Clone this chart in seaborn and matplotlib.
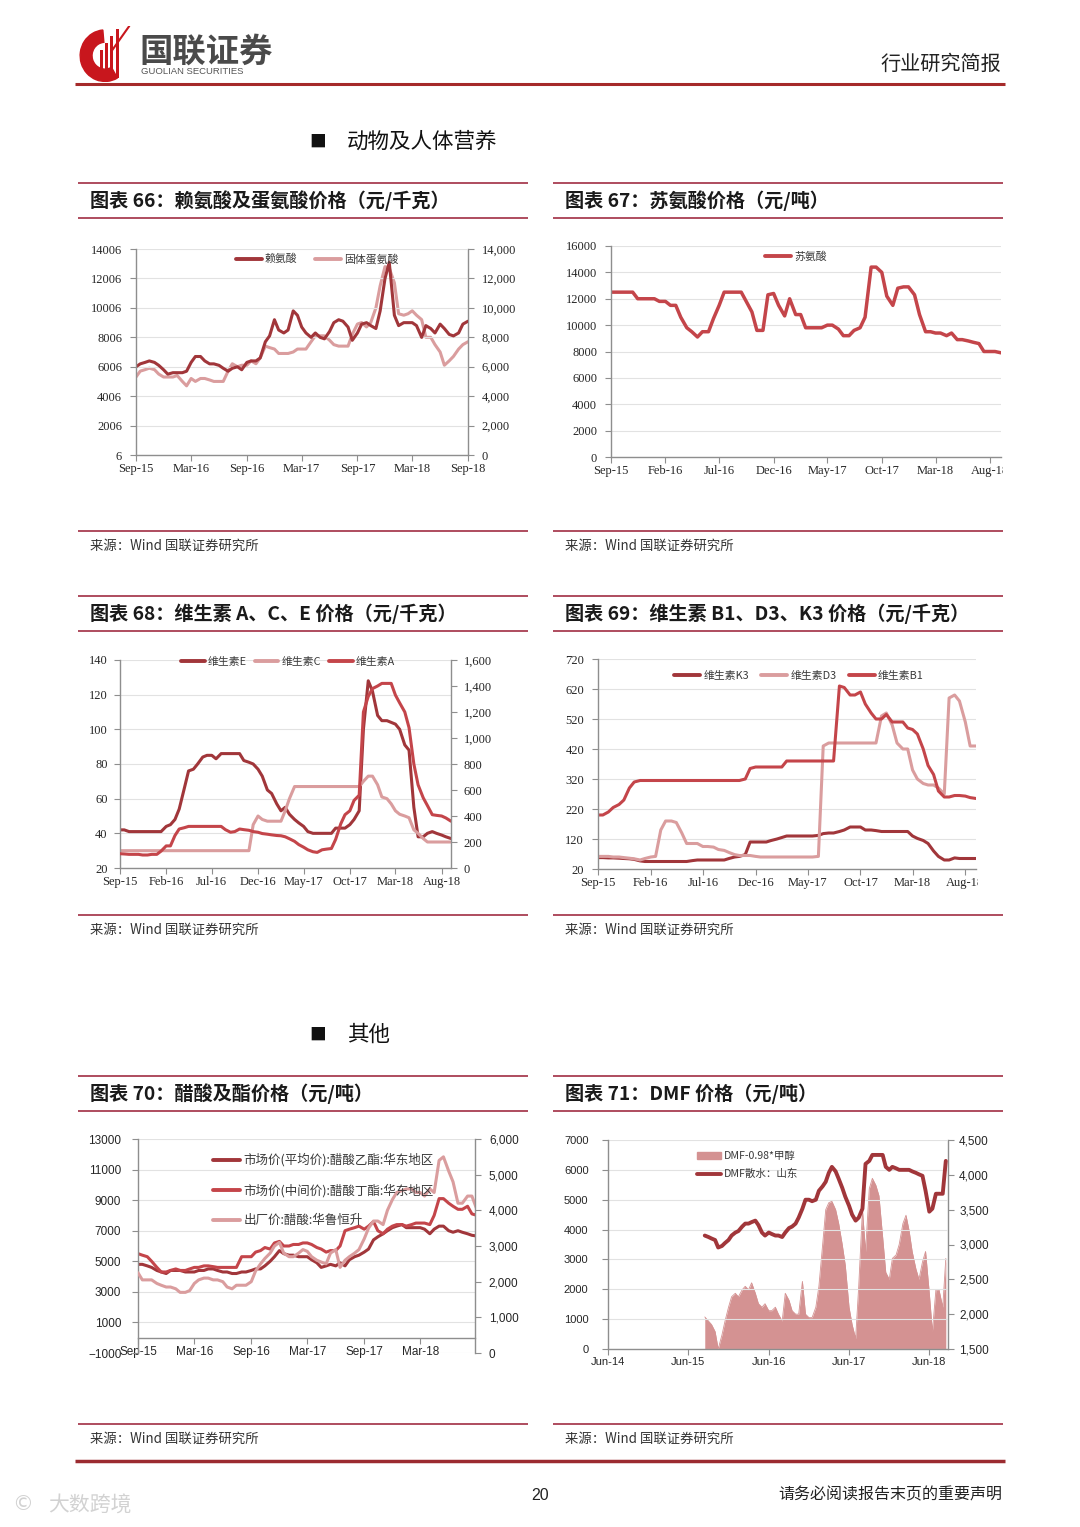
import numpy as np
import pandas as pd
import matplotlib
matplotlib.use('Agg')
import matplotlib.pyplot as plt
import matplotlib.dates as mdates
import seaborn as sns
from matplotlib.lines import Line2D
from matplotlib.patches import Rectangle, Wedge, Patch
from matplotlib.transforms import Bbox, TransformedBbox

# ======================= DATA (semi-monthly readings) =======================
# Chart 66 (Sep-15 .. Sep-18)
lysine = [6000, 6200, 6300, 6400, 6300, 6100, 5800, 5500, 5600, 5600,
          5600, 5700, 6300, 6700, 6700, 6400, 6200, 6200, 6100, 5900,
          5700, 5900, 6000, 5800, 6300, 6400, 6400, 6600, 7700, 8100,
          9200, 8500, 8300, 8500, 9800, 9500, 8700, 8300, 8000, 8300,
          8000, 7900, 8400, 9000, 9200, 9100, 8700, 7800, 8300, 8900,
          9000, 8800, 8600, 9800, 12000, 13100, 9500, 8800, 9000, 9000,
          9000, 8800, 8000, 8800, 8600, 8300, 8900, 8600, 8200, 8100,
          8300, 8900, 9100]
methionine = [5300, 5700, 5800, 5900, 5800, 5500, 5300, 5300, 5300, 5400,
              5000, 4700, 5200, 5000, 5200, 5200, 5100, 5000, 5000, 5000,
              5700, 6200, 6000, 6100, 6100, 6400, 6200, 6600, 7400, 7300,
              7200, 6900, 6900, 6900, 7000, 7200, 7200, 7200, 7700, 8100,
              8100, 8100, 7800, 7500, 7400, 7400, 7400, 8200, 8900, 9000,
              8700, 9000, 10000, 11500, 12800, 12700, 11700, 9600, 9500, 9600,
              9800, 9500, 9200, 8000, 8000, 7500, 7000, 6100, 6400, 6700,
              7200, 7500, 7700]
# Chart 67
threonine = [12500, 12500, 12500, 12500, 12500, 12000, 12000, 12000, 12000, 11800,
             11800, 11500, 11500, 10600, 9800, 9500, 9100, 9500, 9500, 10500,
             11500, 12500, 12500, 12500, 12500, 11800, 11000, 9600, 9600, 12300,
             12400, 11500, 10700, 12000, 10800, 10800, 9800, 9800, 9800, 9800,
             10000, 10000, 9700, 9200, 9200, 9600, 9800, 10600, 14400, 14400,
             14000, 12200, 11500, 12800, 12900, 12900, 12300, 10800, 9500, 9500,
             9400, 9400, 9200, 9400, 8900, 8900, 8800, 8700, 8600, 8000,
             8000, 8000, 7900]
# Chart 68
vit_e = [42, 42, 41, 41, 41, 41, 41, 41, 41, 41,
         44, 45, 48, 54, 66, 76, 77, 80, 84, 85,
         85, 83, 86, 86, 86, 86, 86, 82, 81, 80,
         77, 73, 65, 63, 57, 53, 55, 51, 48, 46,
         44, 41, 40, 40, 40, 40, 40, 43, 43, 43,
         45, 48, 53, 100, 128, 122, 108, 105, 105, 104,
         103, 100, 91, 88, 55, 38, 38, 40, 41, 40,
         39, 38, 37]
vit_c = [30, 30, 30, 30, 30, 30, 30, 30, 30, 30,
         30, 30, 30, 30, 30, 30, 30, 30, 30, 30,
         30, 30, 30, 30, 30, 30, 30, 30, 30, 45,
         50, 48, 47, 47, 47, 47, 53, 60, 67, 67,
         67, 67, 67, 67, 67, 67, 67, 67, 67, 67,
         67, 67, 67, 70, 73, 73, 68, 61, 60, 57,
         53, 51, 50, 49, 42, 40, 37, 35, 35, 35,
         35, 35, 35]
vit_a = [110, 108, 105, 105, 105, 100, 100, 105, 105, 130,
         170, 170, 250, 300, 310, 320, 320, 320, 320, 320,
         320, 320, 320, 295, 275, 280, 300, 295, 290, 280,
         275, 265, 260, 255, 250, 248, 240, 225, 205, 180,
         160, 140, 125, 120, 140, 145, 150, 220, 340, 410,
         440, 520, 560, 1200, 1320, 1380, 1400, 1420, 1420, 1420,
         1330, 1270, 1200, 1080, 800, 640, 540, 480, 410, 405,
         400, 385, 360]
# Chart 69
vit_k3 = [58, 58, 57, 57, 56, 55, 54, 52, 47, 45,
          45, 45, 45, 45, 45, 45, 45, 45, 48, 50,
          50, 50, 50, 50, 50, 55, 60, 62, 68, 110,
          110, 110, 110, 115, 120, 125, 130, 130, 130, 130,
          130, 130, 132, 138, 140, 140, 145, 150, 160, 160,
          160, 150, 150, 148, 145, 145, 145, 145, 145, 145,
          130, 122, 115, 105, 80, 62, 50, 50, 57, 55,
          55, 55, 55]
vit_d3 = [62, 62, 62, 60, 60, 58, 56, 54, 50, 55,
          60, 62, 150, 180, 180, 175, 140, 105, 105, 105,
          95, 95, 93, 85, 82, 75, 68, 65, 65, 65,
          62, 60, 60, 60, 60, 60, 60, 60, 60, 60,
          60, 60, 62, 430, 440, 440, 440, 440, 440, 440,
          440, 440, 440, 440, 530, 540, 500, 440, 420, 420,
          350, 320, 305, 300, 300, 290, 270, 590, 600, 580,
          510, 430, 430]
vit_b1 = [200, 200, 210, 225, 235, 250, 290, 310, 315, 315,
          315, 315, 315, 315, 315, 315, 315, 315, 315, 315,
          315, 315, 315, 315, 315, 315, 315, 315, 320, 355,
          360, 360, 360, 360, 360, 360, 380, 380, 380, 380,
          380, 380, 380, 380, 380, 380, 630, 625, 600, 600,
          610, 570, 540, 520, 520, 535, 510, 510, 510, 490,
          485, 470, 420, 365, 335, 280, 260, 260, 265, 265,
          263, 258, 255]
# Chart 70
ethyl_acetate = [4800, 4800, 4700, 4600, 4400, 4300, 4200, 4400, 4400, 4400,
                 4300, 4300, 4300, 4400, 4400, 4500, 4500, 4400, 4300, 4300,
                 4200, 4200, 4300, 4300, 4400, 4500, 4500, 4700, 5000, 5300,
                 5700, 5500, 5400, 5400, 5300, 5300, 5300, 5100, 4900, 4600,
                 4700, 4800, 4700, 4900, 4700, 5100, 5300, 5400, 5600, 5800,
                 6400, 6600, 6800, 7000, 7200, 7300, 7400, 7200, 7200, 7200,
                 7200, 7100, 6800, 7100, 7300, 7300, 7000, 6900, 7000, 6900,
                 6800, 6700, 6650]
butyl_acetate = [5500, 5400, 5300, 5000, 4600, 4300, 4300, 4400, 4500, 4400,
                 4400, 4500, 4600, 4600, 4700, 4700, 4650, 4600, 4600, 4600,
                 4600, 4600, 5300, 5300, 5300, 5600, 5700, 5900, 5800, 6200,
                 6300, 6000, 6000, 6100, 6100, 6200, 6200, 6100, 5900, 5800,
                 5600, 5700, 5700, 6000, 7000, 7100, 7200, 7300, 7100, 7300,
                 7600, 7000, 6800, 7100, 7300, 7400, 7400, 7300, 7400, 7500,
                 7500, 7500, 7400, 8000, 9100, 9100, 8800, 8600, 8400, 8400,
                 8600, 8100, 8000]
acetic_acid = [2250, 2050, 2050, 2050, 1950, 1900, 1850, 1850, 1800, 1700,
               1700, 1750, 1950, 2050, 2100, 2100, 2050, 2050, 2000, 1850,
               1800, 1900, 1900, 1900, 2000, 2300, 2500, 2650, 2800, 3000,
               3100, 2800, 2700, 2700, 2800, 2900, 2850, 2700, 2600, 2550,
               2500, 2800, 2900, 2400, 2600, 2700, 2800, 2900, 3200, 3500,
               3700, 3700, 3600, 4000, 4300, 4500, 4550, 4600, 4600, 4500,
               4500, 4400, 4600, 4500, 5400, 5500, 5100, 4800, 4200, 4200,
               4400, 4400, 4000]
# Chart 71 (mid Aug-15 .. mid Aug-18)
dmf_price = [3800, 3750, 3700, 3650, 3400, 3450, 3550, 3650, 3800, 3900,
             3950, 4100, 4200, 4200, 4250, 4300, 4150, 3900, 3800, 3900,
             3850, 3800, 3800, 3750, 3900, 4050, 4100, 4200, 4400, 4700,
             5000, 5000, 4950, 5000, 5300, 5450, 5600, 5900, 6100, 5950,
             5700, 5400, 5100, 4800, 4500, 4300, 4400, 4700, 6200, 6300,
             6500, 6500, 6500, 6500, 6100, 6000, 6100, 6050, 6000, 6000,
             6000, 6000, 5950, 5900, 5850, 5800, 5300, 4600, 4700, 5200,
             5200, 5200, 6300]
dmf_spread = [1960, 1900, 1850, 1750, 1500, 1700, 1900, 2100, 2250, 2300,
              2250, 2350, 2400, 2350, 2450, 2300, 2150, 2100, 2150, 2050,
              2050, 2100, 2000, 1900, 2300, 2200, 2050, 2000, 2000, 2470,
              2000, 1950, 1950, 2100, 2400, 3000, 3500, 3600, 3620, 3500,
              3300, 3000, 2700, 2100, 1850, 1650, 2400, 3500, 2900, 3800,
              3950, 3850, 3700, 3100, 2600, 2500, 2800, 2850, 3000, 3300,
              3420, 3200, 2900, 2650, 2500, 2750, 2900, 2300, 1750, 2350,
              2350, 2100, 2800]

# tick labels
ticks_66 = ['Sep-15', 'Mar-16', 'Sep-16', 'Mar-17', 'Sep-17', 'Mar-18', 'Sep-18']
ticks_67 = ['Sep-15', 'Feb-16', 'Jul-16', 'Dec-16', 'May-17', 'Oct-17', 'Mar-18', 'Aug-18']
ticks_68 = ['Sep-15', 'Feb-16', 'Jul-16', 'Dec-16', 'May-17', 'Oct-17', 'Mar-18', 'Aug-18']
ticks_69 = ['Sep-15', 'Feb-16', 'Jul-16', 'Dec-16', 'May-17', 'Oct-17', 'Mar-18', 'Aug-18']
ticks_70 = ['Sep-15', 'Mar-16', 'Sep-16', 'Mar-17', 'Sep-17', 'Mar-18']
ticks_71 = ['Jun-14', 'Jun-15', 'Jun-16', 'Jun-17', 'Jun-18']
y66_left = [6, 2006, 4006, 6006, 8006, 10006, 12006, 14006]
y66_right = [0, 2000, 4000, 6000, 8000, 10000, 12000, 14000]
y67 = [0, 2000, 4000, 6000, 8000, 10000, 12000, 14000, 16000]
y68_left = [20, 40, 60, 80, 100, 120, 140]
y68_right = [0, 200, 400, 600, 800, 1000, 1200, 1400, 1600]
y69 = [20, 120, 220, 320, 420, 520, 620, 720]
y70_left = [-1000, 1000, 3000, 5000, 7000, 9000, 11000, 13000]
y70_right = [0, 1000, 2000, 3000, 4000, 5000, 6000]
y71_left = [0, 1000, 2000, 3000, 4000, 5000, 6000, 7000]
y71_right = [1500, 2000, 2500, 3000, 3500, 4000, 4500]

# ======================= STYLE =======================
sns.set_theme(style='white')
plt.rcParams['font.family'] = ['Noto Sans CJK SC', 'DejaVu Sans']
plt.rcParams['axes.unicode_minus'] = True

DARK = '#A1363A'
LIGHT = '#DA9D9E'
RED = '#C4454A'
AREA = '#D49292'
GRAY = '#8E8E8E'
TXT = '#262626'
PANEL = '#A83E52'
SERIF = 'Liberation Serif'
SANS = 'Liberation Sans'

W, H = 1080, 1527
fig = plt.figure(figsize=(W / 100, H / 100), dpi=100)
fig.patch.set_facecolor('white')


def fx(x):
    return x / W


def fy(y):
    return 1 - y / H


def rect(x0, y0, x1, y1):
    return [x0 / W, 1 - y1 / H, (x1 - x0) / W, (y1 - y0) / H]


def hline(x0, x1, y, color, lw):
    fig.add_artist(Line2D([fx(x0), fx(x1)], [fy(y), fy(y)],
                          transform=fig.transFigure, color=color, lw=lw,
                          solid_capstyle='butt'))


def ftext(x, y, s, **kw):
    fig.text(fx(x), fy(y), s, **kw)


def dnum(lbl):
    return mdates.date2num(pd.to_datetime(lbl, format='%b-%y'))


def base_style(ax, grid=True):
    ax.set_xlabel('')
    ax.set_ylabel('')
    for s in ['top', 'right']:
        ax.spines[s].set_visible(False)
    for s in ['left', 'bottom']:
        ax.spines[s].set_color(GRAY)
        ax.spines[s].set_linewidth(1.0)
    if grid:
        ax.grid(True, axis='y', color='#E2E2E2', lw=0.8)
    ax.grid(False, axis='x')
    ax.set_axisbelow(True)


def set_xt(ax, labels, family, fs, clip_right=None):
    ax.set_xticks([dnum(l) for l in labels])
    ax.set_xticklabels(labels, fontfamily=family, fontsize=fs, color=TXT)
    ax.tick_params(axis='x', bottom=True, length=4, width=0.8, color=GRAY,
                   pad=2, direction='out')
    if clip_right is not None:
        clip = TransformedBbox(Bbox([[0, 0], [clip_right / W, 1]]), fig.transFigure)
        for lab in ax.get_xticklabels():
            lab.set_clip_box(clip)
            lab.set_clip_on(True)


def set_yt(ax, vals, labels, family, fs, pad, side='left'):
    ax.set_yticks(vals)
    ax.set_yticklabels(labels, fontfamily=family, fontsize=fs, color=TXT)
    if side == 'left':
        ax.tick_params(axis='y', left=True, right=False, labelleft=True,
                       labelright=False, length=4, width=0.8, color=GRAY,
                       pad=pad, direction='out')
    else:
        ax.tick_params(axis='y', left=False, right=True, labelleft=False,
                       labelright=True, length=4, width=0.8, color=GRAY,
                       pad=pad, direction='out')


def twin_style(ax2):
    ax2.set_ylabel('')
    ax2.grid(False)
    for s in ['top', 'left', 'bottom']:
        ax2.spines[s].set_visible(False)
    ax2.spines['right'].set_visible(True)
    ax2.spines['right'].set_color(GRAY)
    ax2.spines['right'].set_linewidth(1.0)


def lh(color, lw=2.8):
    return Line2D([], [], color=color, lw=lw)


def comma(v):
    return f'{v:,}'


dates = pd.date_range('2015-09-01', periods=len(lysine), freq='SMS')
dates_dmf = pd.date_range('2015-08-15', periods=len(dmf_price), freq='SMS')
x_start = mdates.date2num(pd.Timestamp('2015-09-01'))
x_end = mdates.date2num(pd.Timestamp('2018-09-01'))

# ======================= PAGE FRAME =======================
lax = fig.add_axes(rect(78, 26, 132, 82))
lax.set_xlim(0, 1)
lax.set_ylim(0, 1)
lax.axis('off')
lax.add_patch(Wedge((0.5, 0.47), 0.46, 95, 300, width=0.22, color='#C8161D'))
for x0, hh in [(0.40, 0.50), (0.50, 0.62), (0.60, 0.74), (0.70, 0.86)]:
    lax.add_patch(Rectangle((x0, 0.08), 0.055, hh, color='#C8161D', lw=0))
lax.plot([0.62, 0.95], [0.55, 1.0], color='#C8161D', lw=1.5)

ftext(139, 52, '国联证券', fontsize=24, fontweight='bold', color='#4A4A4A', va='center')
ftext(141, 72, 'GUOLIAN SECURITIES', fontsize=6.8, color='#555555', va='center',
      fontfamily=SANS)
ftext(1001, 64, '行业研究简报', fontsize=14.5, ha='right', va='center', color='#222222')
hline(75, 1005, 84, '#A52A2A', 2.2)

ftext(309, 142, '■', fontsize=12, va='center', color='#111111')
ftext(347, 142, '动物及人体营养', fontsize=15.5, va='center', color='#111111')
ftext(309, 1035, '■', fontsize=12, va='center', color='#111111')
ftext(347, 1035, '其他', fontsize=15.5, va='center', color='#111111')

hline(75, 1005, 1461, '#9B2B30', 2.5)
ftext(540, 1495, '20', fontsize=11.5, ha='center', va='center', fontfamily=SANS,
      color='#222222')
ftext(1002, 1495, '请务必阅读报告末页的重要声明', fontsize=11.5, ha='right',
      va='center', color='#222222')
ftext(48, 1506, '大数跨境', fontsize=15, color='#D2D2D2', va='center')
ftext(12, 1504, '©', fontsize=15, color='#D2D2D2', va='center', fontfamily='DejaVu Sans')


def panel(xl, xr, y_top, y_src, title):
    hline(xl, xr, y_top, PANEL, 1.3)
    hline(xl, xr, y_top + 35, PANEL, 1.3)
    ftext(xl + 12, y_top + 18, title, fontsize=13.8, fontweight='bold',
          va='center', ha='left', color='#1A1A1A')
    hline(xl, xr, y_src, PANEL, 1.3)
    ftext(xl + 12, y_src + 15, '来源：Wind 国联证券研究所', fontsize=9.6,
          va='center', color='#333333')


panel(78, 528, 183, 531, '图表 66：赖氨酸及蛋氨酸价格（元/千克）')
panel(553, 1003, 183, 531, '图表 67：苏氨酸价格（元/吨）')
panel(78, 528, 596, 915, '图表 68：维生素 A、C、E 价格（元/千克）')
panel(553, 1003, 596, 915, '图表 69：维生素 B1、D3、K3 价格（元/千克）')
panel(78, 528, 1076, 1424, '图表 70：醋酸及酯价格（元/吨）')
panel(553, 1003, 1076, 1424, '图表 71：DMF 价格（元/吨）')

LEG = dict(frameon=False, borderpad=0, handletextpad=0.3, labelcolor='#3A3A3A',
           bbox_transform=fig.transFigure)

# ======================= CHART 66 =======================
ax = fig.add_axes(rect(136, 249, 468, 455))
ax2 = ax.twinx()
sns.lineplot(x=dates, y=lysine, ax=ax, color=DARK, linewidth=2.2, legend=False)
sns.lineplot(x=dates, y=methionine, ax=ax2, color=LIGHT, linewidth=2.2, legend=False)
base_style(ax)
twin_style(ax2)
ax.set_xlim(x_start, x_end)
ax.set_ylim(6, 14006)
ax2.set_ylim(0, 14000)
set_xt(ax, ticks_66, SERIF, 9)
set_yt(ax, y66_left, [str(v) for v in y66_left], SERIF, 9, 6)
set_yt(ax2, y66_right, [comma(v) for v in y66_right], SERIF, 9, 6, side='right')
ax.set_zorder(ax2.get_zorder() + 1)
ax.patch.set_visible(False)
ax.legend([lh(DARK), lh(LIGHT)], ['赖氨酸', '固体蛋氨酸'], loc='center',
          bbox_to_anchor=(fx(317), fy(259)), ncol=2, fontsize=7.8,
          handlelength=2.4, columnspacing=1.6, **LEG)

# ======================= CHART 67 =======================
ax = fig.add_axes(rect(611, 246, 1001, 457))
sns.lineplot(x=dates, y=threonine, ax=ax, color=RED, linewidth=2.5, legend=False)
base_style(ax)
ax.set_xlim(x_start, x_end)
ax.set_ylim(0, 16000)
set_xt(ax, ticks_67, SERIF, 9, clip_right=1003)
set_yt(ax, y67, [str(v) for v in y67], SERIF, 9, 6)
ax.legend([lh(RED)], ['苏氨酸'], loc='center', bbox_to_anchor=(fx(796), fy(257)),
          fontsize=7.8, handlelength=2.4, **LEG)

# ======================= CHART 68 =======================
ax = fig.add_axes(rect(120, 660, 451, 868))
ax2 = ax.twinx()
sns.lineplot(x=dates, y=vit_e, ax=ax, color=DARK, linewidth=2.2, legend=False)
sns.lineplot(x=dates, y=vit_c, ax=ax, color=LIGHT, linewidth=2.2, legend=False)
sns.lineplot(x=dates, y=vit_a, ax=ax2, color=RED, linewidth=2.2, legend=False)
base_style(ax)
twin_style(ax2)
ax.set_xlim(x_start, x_end)
ax.set_ylim(20, 140)
ax2.set_ylim(0, 1600)
set_xt(ax, ticks_68, SERIF, 9)
set_yt(ax, y68_left, [str(v) for v in y68_left], SERIF, 9, 5)
set_yt(ax2, y68_right, [comma(v) for v in y68_right], SERIF, 9, 5, side='right')
ax2.legend([lh(DARK), lh(LIGHT), lh(RED)], ['维生素E', '维生素C', '维生素A'],
           loc='center', bbox_to_anchor=(fx(288), fy(662)), ncol=3, fontsize=7.8,
           handlelength=2.2, columnspacing=0.7, **LEG)

# ======================= CHART 69 =======================
ax = fig.add_axes(rect(598, 659, 976, 869))
sns.lineplot(x=dates, y=vit_k3, ax=ax, color=DARK, linewidth=2.2, legend=False)
sns.lineplot(x=dates, y=vit_d3, ax=ax, color=LIGHT, linewidth=2.2, legend=False)
sns.lineplot(x=dates, y=vit_b1, ax=ax, color=RED, linewidth=2.2, legend=False)
base_style(ax)
ax.set_xlim(x_start, x_end)
ax.set_ylim(20, 720)
set_xt(ax, ticks_69, SERIF, 9, clip_right=978)
set_yt(ax, y69, [str(v) for v in y69], SERIF, 9, 6)
ax.legend([lh(DARK), lh(LIGHT), lh(RED)], ['维生素K3', '维生素D3', '维生素B1'],
          loc='center', bbox_to_anchor=(fx(799), fy(676)), ncol=3, fontsize=7.8,
          handlelength=2.4, columnspacing=1.1, **LEG)

# ======================= CHART 70 =======================
ax = fig.add_axes(rect(138, 1139, 475, 1353))
ax2 = ax.twinx()
sns.lineplot(x=dates, y=ethyl_acetate, ax=ax, color=DARK, linewidth=2.2, legend=False)
sns.lineplot(x=dates, y=butyl_acetate, ax=ax, color=RED, linewidth=2.2, legend=False)
sns.lineplot(x=dates, y=acetic_acid, ax=ax2, color=LIGHT, linewidth=2.2, legend=False)
base_style(ax)
twin_style(ax2)
ax.spines['bottom'].set_position(('data', 0))
ax.set_xlim(x_start, mdates.date2num(pd.Timestamp('2018-08-25')))
ax.set_ylim(-1000, 13000)
ax2.set_ylim(0, 6000)
set_xt(ax, ticks_70, SANS, 8.5)
set_yt(ax, y70_left, [str(v).replace('-', '\u2212') for v in y70_left], SANS, 8.5, 8)
set_yt(ax2, y70_right, [comma(v) for v in y70_right], SANS, 8.5, 6, side='right')
ax2.legend([lh(DARK), lh(RED), lh(LIGHT)],
           ['市场价(平均价):醋酸乙酯:华东地区', '市场价(中间价):醋酸丁酯:华东地区',
            '出厂价:醋酸:华鲁恒升'],
           loc='upper left', bbox_to_anchor=(fx(207), fy(1147)), ncol=1,
           fontsize=9, handlelength=2.1, labelspacing=1.35, **LEG)

# ======================= CHART 71 =======================
ax = fig.add_axes(rect(608, 1140, 948, 1349))
ax2 = ax.twinx()
sns.lineplot(x=dates_dmf, y=dmf_spread, ax=ax2, color=AREA, linewidth=0.6, legend=False)
ax2.fill_between(dates_dmf, 1500, dmf_spread, color=AREA, lw=0)
sns.lineplot(x=dates_dmf, y=dmf_price, ax=ax, color=DARK, linewidth=2.8, legend=False)
base_style(ax)
twin_style(ax2)
ax.set_xlim(mdates.date2num(pd.Timestamp('2014-06-01')),
            mdates.date2num(pd.Timestamp('2018-08-25')))
ax.set_ylim(0, 7000)
ax2.set_ylim(1500, 4500)
set_xt(ax, ticks_71, SANS, 8)
set_yt(ax, y71_left, [str(v) for v in y71_left], SANS, 8, 10)
set_yt(ax2, y71_right, [comma(v) for v in y71_right], SANS, 8.5, 4, side='right')
ax.set_zorder(ax2.get_zorder() + 1)
ax.patch.set_visible(False)
ax.legend([Patch(color=AREA), lh(DARK)], ['DMF-0.98*甲醇', 'DMF散水：山东'],
          loc='upper left', bbox_to_anchor=(fx(692), fy(1146)), ncol=1,
          fontsize=7.6, handlelength=2.2, labelspacing=0.75, **LEG)

fig.savefig('out.png', dpi=100, facecolor='white')
